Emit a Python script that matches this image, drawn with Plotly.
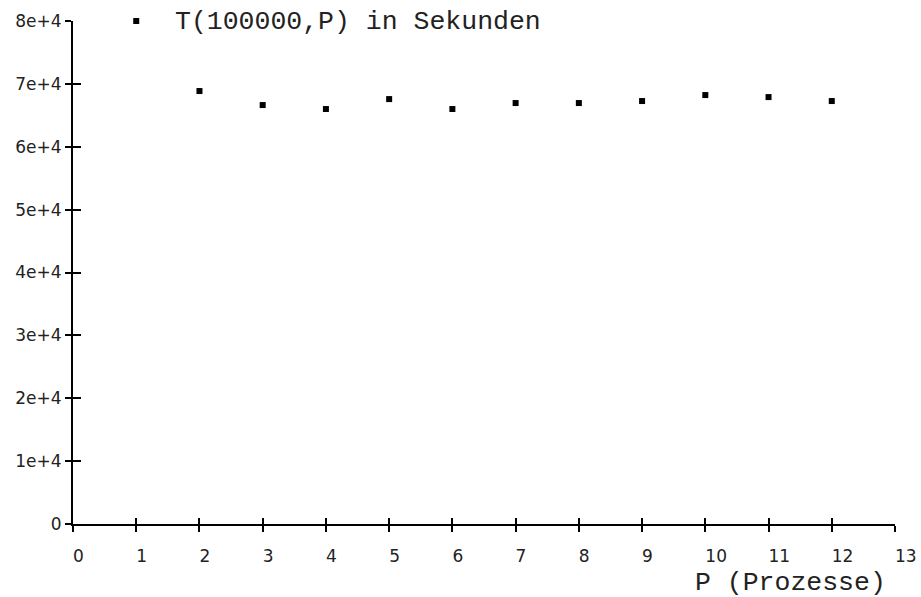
import plotly.graph_objects as go

# Data
P = [1, 2, 3, 4, 5, 6, 7, 8, 9, 10, 11, 12]
T = [80000, 68860, 66630, 66000, 67580, 66000, 66950, 66950, 67270, 68220, 67900, 67270]

x_ticks = list(range(0, 14))
y_ticks = [0, 10000, 20000, 30000, 40000, 50000, 60000, 70000, 80000]
y_tick_labels = ["0", "1e+4", "2e+4", "3e+4", "4e+4", "5e+4", "6e+4", "7e+4", "8e+4"]
series_label = "T(100000,P) in Sekunden"
x_label = "P (Prozesse)"

FS = "\u2007"  # figure space, to left-align tick labels at the tick
x_tick_labels = [FS * len(str(v)) + str(v) for v in x_ticks]

tick_font = dict(family="DejaVu Sans", size=17, color="#222222")
mono_font = dict(family="Liberation Mono", size=26.5, color="#222222")

fig = go.Figure()
fig.add_trace(go.Scatter(
    x=P, y=T, mode="markers",
    marker=dict(symbol="square", size=6, color="black", line=dict(width=0)),
    cliponaxis=False, showlegend=False,
))
# empty trace so the overlay axes (inner halves of ticks) exist
fig.add_trace(go.Scatter(x=[], y=[], xaxis="x2", yaxis="y2", showlegend=False))

common_x = dict(range=[0, 13], tickvals=x_ticks, showgrid=False, zeroline=False,
                automargin=False)
common_y = dict(range=[0, 80000], tickvals=y_ticks, showgrid=False, zeroline=False,
                automargin=False)

fig.update_layout(
    width=921, height=597,
    margin=dict(l=73, r=26, t=21, b=73, autoexpand=False),
    paper_bgcolor="white", plot_bgcolor="white",
    showlegend=False,
    xaxis=dict(**common_x, ticktext=x_tick_labels, ticks="outside", ticklen=6,
               tickwidth=1.5, tickcolor="black", showline=True, linecolor="black",
               linewidth=2, tickfont=tick_font, ticklabelstandoff=10),
    yaxis=dict(**common_y, ticktext=y_tick_labels, ticks="outside", ticklen=6,
               tickwidth=1.5, tickcolor="black", showline=True, linecolor="black",
               linewidth=2, tickfont=tick_font, ticklabelstandoff=0),
    xaxis2=dict(**common_x, overlaying="x", anchor="y2", side="bottom", ticks="inside",
                ticklen=6, tickwidth=1.5, tickcolor="black", showticklabels=False,
                showline=False),
    yaxis2=dict(**common_y, overlaying="y", anchor="x2", side="left", ticks="inside",
                ticklen=8, tickwidth=1.5, tickcolor="black", showticklabels=False,
                showline=False),
    annotations=[
        dict(text=series_label, xref="paper", yref="paper", x=0.1217, y=0.998,
             xanchor="left", yanchor="middle", showarrow=False, font=mono_font),
        dict(text=x_label, xref="paper", yref="paper", x=0.992, y=-0.1173,
             xanchor="right", yanchor="middle", showarrow=False, font=mono_font),
    ],
)

fig.write_html("out.html")
